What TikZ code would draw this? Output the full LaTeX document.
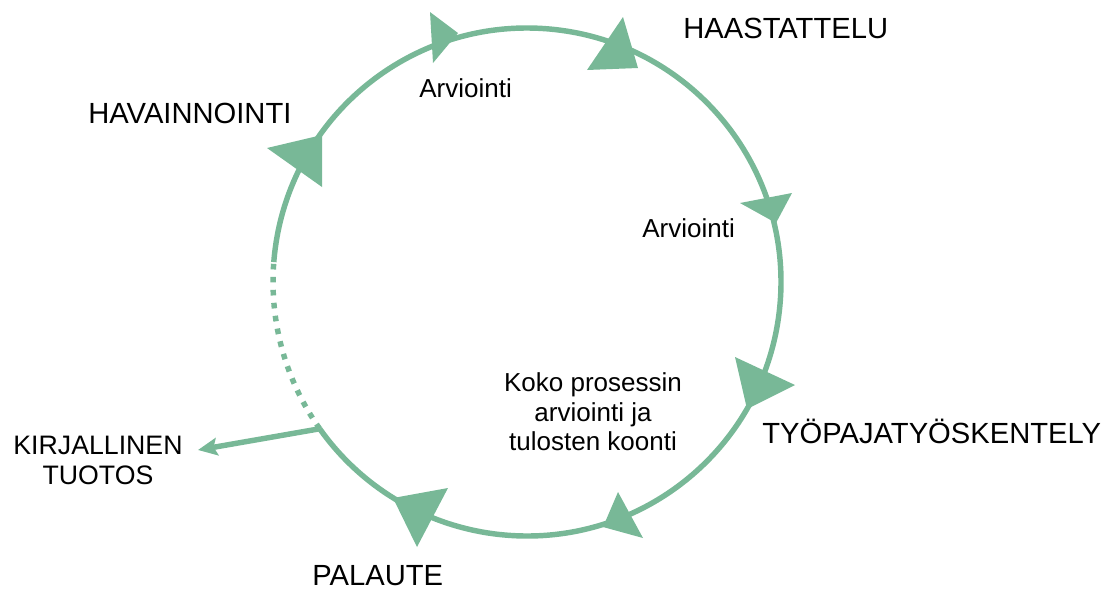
\documentclass[tikz,border=0pt]{standalone}
\usepackage{fontspec}
\setmainfont{Liberation Sans}
\usetikzlibrary{arrows.meta,calc}
\definecolor{cyclegreen}{RGB}{120,184,151}
\begin{document}
\begin{tikzpicture}[x=0.02cm,y=-0.02cm,
  ring/.style={draw=cyclegreen,line width=3.1pt},
  head/.style={fill=cyclegreen},
  biglabel/.style={inner sep=0pt,font=\fontsize{16.6}{19}\selectfont},
  smalllabel/.style={inner sep=0pt,align=center,font=\fontsize{14.8}{16.8}\selectfont}]
  \useasboundingbox (0,0) rectangle (1120,589);
  \coordinate (hub) at (527,282);
  \coordinate (jn) at ($(hub)+(144.7:254)$);
  \coordinate (out) at (198,450);
  \draw[ring] (hub) ++(184.5:254) arc[start angle=184.5,end angle=504.7,radius=254];
  \draw[ring,dash pattern=on 3.2pt off 4.2pt] (jn) arc[start angle=144.7,end angle=184.5,radius=254];
  \draw[ring,-{Stealth[length=11pt,width=10pt,inset=2pt]}] (jn) -- (out);
  \fill[head] (430,12) -- (433,63) -- (458,33) -- cycle;
  \fill[head] (623,17) -- (587,70) -- (638,68) -- cycle;
  \fill[head] (740,203) -- (792,193) -- (776,223) -- cycle;
  \fill[head] (735,357) -- (795,385) -- (747,409) -- cycle;
  \fill[head] (618,492) -- (643,538) -- (603,527) -- cycle;
  \fill[head] (393,498) -- (448,488) -- (417,547) -- cycle;
  \fill[head] (267,148) -- (322,135) -- (322,187) -- cycle;
  \node[biglabel,anchor=base west] (haast) at (683,38) {HAASTATTELU};
  \node[biglabel,anchor=base west] (havain) at (88,123) {HAVAINNOINTI};
  \node[biglabel,anchor=base west] (tyopaja) at (762,443) {TYÖPAJATYÖSKENTELY};
  \node[biglabel,anchor=base west] (palaute) at (312,585) {PALAUTE};
  \node[smalllabel,anchor=base west] (arv1) at (419,97) {Arviointi};
  \node[smalllabel,anchor=base west] (arv2) at (642,237) {Arviointi};
  \node[smalllabel,anchor=north] (koko) at (593,372.5) {Koko prosessin\\arviointi ja\\tulosten koonti};
  \node[smalllabel,anchor=north,font=\fontsize{15.2}{17}\selectfont] (kirj) at (98,436) {KIRJALLINEN\\TUOTOS};
\end{tikzpicture}
\end{document}
